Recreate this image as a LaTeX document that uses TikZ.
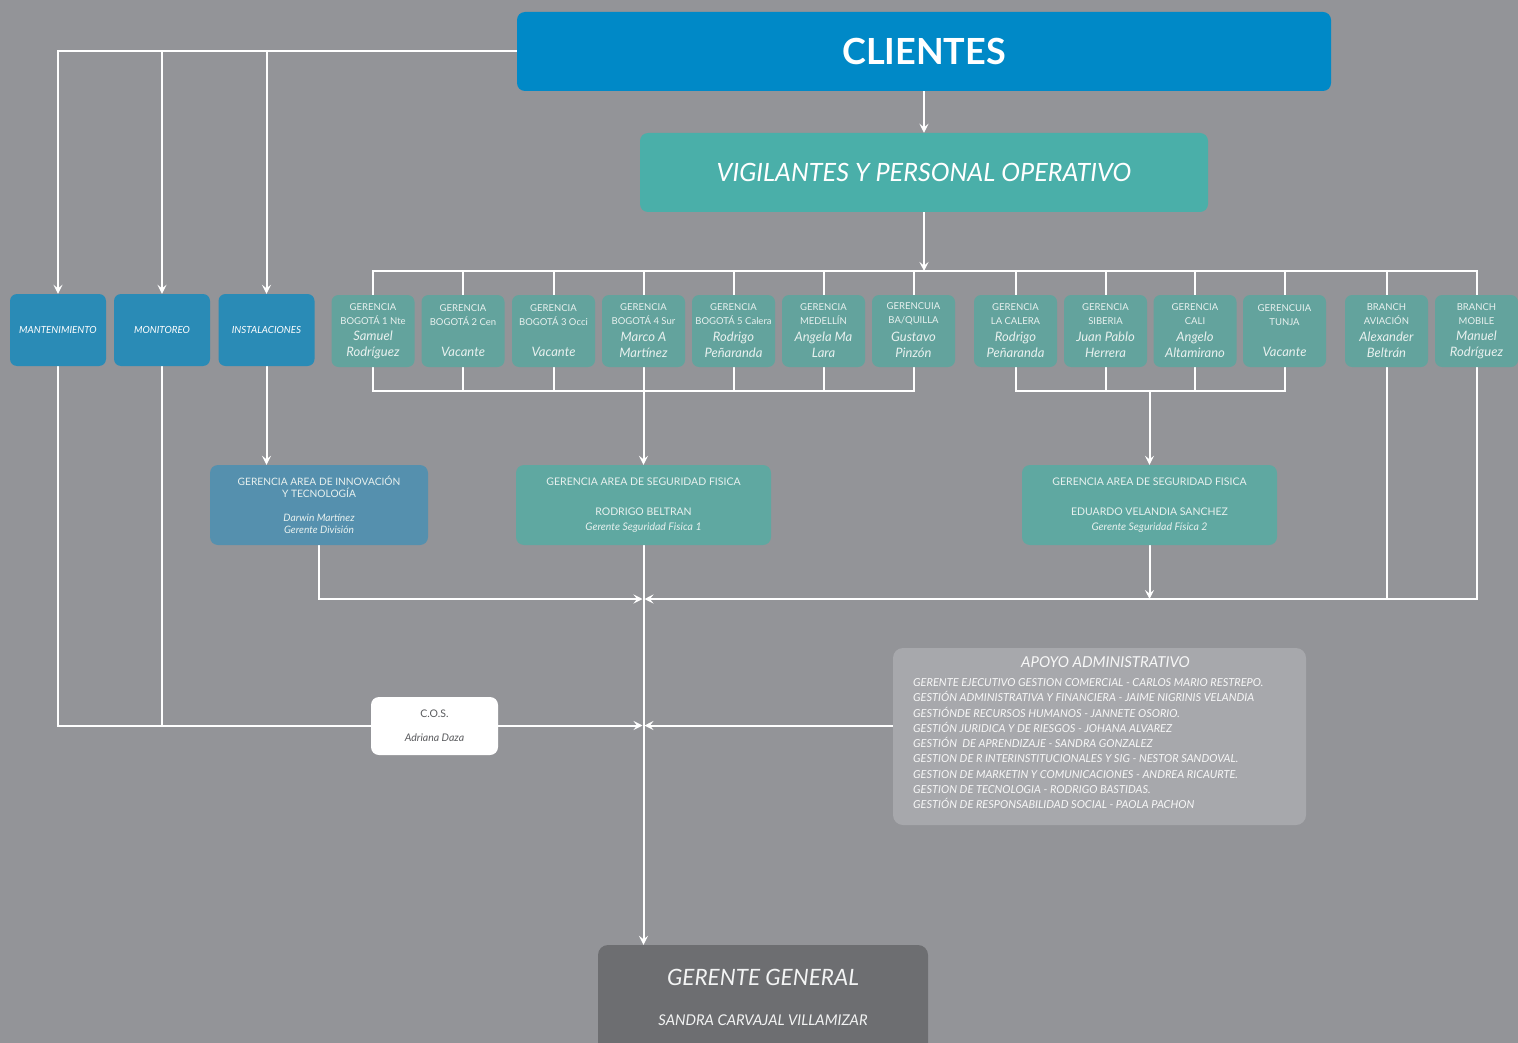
\documentclass[tikz,border=0pt]{standalone}
\usepackage{fontspec}
\setmainfont{Lato}
\usetikzlibrary{arrows.meta}
\pgfdeclarelayer{bg}
\pgfdeclarelayer{lines}
\pgfsetlayers{bg,lines,main}
\definecolor{cbg}{HTML}{939498}
\definecolor{ccli}{HTML}{0089C7}
\definecolor{cvig}{HTML}{4AAFA9}
\definecolor{cblue}{HTML}{2A8BB6}
\definecolor{cteal}{HTML}{63A39D}
\definecolor{cinn}{HTML}{5590AE}
\definecolor{cseg}{HTML}{5FA8A1}
\definecolor{capo}{HTML}{A7A8AC}
\definecolor{cgg}{HTML}{6D6E71}
\definecolor{ctxt}{HTML}{E8F1EF}
\definecolor{cdark}{HTML}{5A5B5E}
\newcommand\gbox[4]{%
  \node[tbox] (#1) at (#2,331) {};
  \node[hdr] (#1h) at (#2,314) {#3};
  \node[nm] (#1n) at (#2,345) {#4};}
\newcommand\gboxv[3]{%
  \node[tbox] (#1) at (#2,331) {};
  \node[hdr] (#1h) at (#2,315) {#3};
  \node[nm] (#1n) at (#2,352) {Vacante};}
\begin{document}
\begin{tikzpicture}[x=1pt,y=-1pt,
  conn/.style={draw=white,line width=2pt},
  arr/.style={conn,-{Stealth[length=9pt,width=9pt,inset=3.5pt]}},
  bbox/.style={fill=cblue,rounded corners=7pt,minimum width=96pt,minimum height=72pt,inner sep=0pt,text=white,font=\fontsize{9.8}{11}\selectfont\itshape},
  tbox/.style={fill=cteal,rounded corners=7pt,minimum width=83pt,minimum height=72pt,inner sep=0pt},
  hdr/.style={inner sep=0pt,align=center,text=ctxt,font=\fontsize{9.5}{13.5}\selectfont},
  nm/.style={inner sep=0pt,align=center,text=ctxt,font=\fontsize{13}{16.5}\selectfont\itshape},
  bigbox/.style={rounded corners=8pt,minimum height=80pt,inner sep=0pt,align=center,text=ctxt},
]
\begin{pgfonlayer}{bg}
\fill[cbg] (0,0) rectangle (1518,1043);
\end{pgfonlayer}
\useasboundingbox (0,0) rectangle (1518,1043);

% top boxes
\node[fill=ccli,rounded corners=8pt,minimum width=814pt,minimum height=79pt,inner sep=0pt,text=white,font=\fontsize{36}{40}\selectfont\bfseries] (cli) at (924,51.5) {CLIENTES};
\node[fill=cvig,rounded corners=8pt,minimum width=568pt,minimum height=79pt,inner sep=0pt,text=white,font=\fontsize{25.2}{30}\selectfont\itshape] (vig) at (924,172.5) {VIGILANTES Y PERSONAL OPERATIVO};

% blue boxes
\node[bbox] (mant) at (58,330) {MANTENIMIENTO};
\node[bbox] (mon) at (162,330) {MONITOREO};
\node[bbox] (inst) at (266.5,330) {INSTALACIONES};

% teal small boxes
\gbox{g1}{373}{GERENCIA\\BOGOTÁ 1 Nte}{Samuel\\Rodríguez}
\gboxv{g2}{463}{GERENCIA\\BOGOTÁ 2 Cen}
\gboxv{g3}{553.5}{GERENCIA\\BOGOTÁ 3 Occi}
\gbox{g4}{643.5}{GERENCIA\\BOGOTÁ 4 Sur}{Marco A\\Martínez}
\gbox{g5}{733.5}{GERENCIA\\BOGOTÁ 5 Calera}{Rodrigo\\Peñaranda}
\gbox{g6}{823.5}{GERENCIA\\MEDELLÍN}{Angela Ma\\Lara}
\gbox{g7}{913.5}{GERENCUIA\\BA/QUILLA}{Gustavo\\Pinzón}
\gbox{g8}{1015.5}{GERENCIA\\LA CALERA}{Rodrigo\\Peñaranda}
\gbox{g9}{1105.5}{GERENCIA\\SIBERIA}{Juan Pablo\\Herrera}
\gbox{g10}{1195}{GERENCIA\\CALI}{Angelo\\Altamirano}
\gboxv{g11}{1284.5}{GERENCUIA\\TUNJA}
\gbox{g12}{1386.5}{BRANCH\\AVIACIÓN}{Alexander\\Beltrán}
\gbox{g13}{1476.5}{BRANCH\\MOBILE}{Manuel\\Rodríguez}

% middle boxes
\node[bigbox,fill=cinn,minimum width=218pt,font=\fontsize{10.2}{12}\selectfont] (inn) at (319,505)
  {GERENCIA AREA DE INNOVACIÓN\\Y TECNOLOGÍA\\[12pt]{\itshape Darwin Martínez}\\{\itshape Gerente División}};
\node[bigbox,fill=cseg,minimum width=255pt,font=\fontsize{10.5}{15}\selectfont] (seg1) at (643.5,505)
  {GERENCIA AREA DE SEGURIDAD FISICA\\[15pt]RODRIGO BELTRAN\\{\itshape Gerente Seguridad Fisica 1}};
\node[bigbox,fill=cseg,minimum width=255pt,font=\fontsize{10.5}{15}\selectfont] (seg2) at (1149.5,505)
  {GERENCIA AREA DE SEGURIDAD FISICA\\[15pt]EDUARDO VELANDIA SANCHEZ\\{\itshape Gerente Seguridad Física 2}};

% COS
\node[fill=white,rounded corners=8pt,minimum width=127pt,minimum height=58pt,inner sep=0pt,align=center,text=cdark,font=\fontsize{10.5}{24}\selectfont] (cos) at (434.5,726)
  {C.O.S.\\{\itshape Adriana Daza}};

% APOYO
\node[fill=capo,rounded corners=10pt,minimum width=413pt,minimum height=177pt,inner sep=0pt] (apo) at (1099.5,736.5) {};
\node[inner sep=0pt,text=white!92!capo,font=\fontsize{15}{17}\selectfont\itshape] (apot) at (1105.5,662.5) {APOYO ADMINISTRATIVO};
\node[inner sep=0pt,anchor=north west,align=left,text=white!92!capo,font=\fontsize{11}{15.25}\selectfont\itshape] (apol) at (913,678.5)
  {GERENTE EJECUTIVO GESTION COMERCIAL - CARLOS MARIO RESTREPO.\\
   GESTIÓN ADMINISTRATIVA Y FINANCIERA - JAIME NIGRINIS VELANDIA\\
   GESTIÓNDE RECURSOS HUMANOS - JANNETE OSORIO.\\
   GESTIÓN JURIDICA Y DE RIESGOS - JOHANA ALVAREZ\\
   GESTIÓN\ \ DE APRENDIZAJE - SANDRA GONZALEZ\\
   GESTION DE R INTERINSTITUCIONALES Y SIG - NESTOR SANDOVAL.\\
   GESTION DE MARKETIN Y COMUNICACIONES - ANDREA RICAURTE.\\
   GESTION DE TECNOLOGIA - RODRIGO BASTIDAS.\\
   GESTIÓN DE RESPONSABILIDAD SOCIAL - PAOLA PACHON};

% GERENTE GENERAL
\node[fill=cgg,rounded corners=10pt,minimum width=330pt,minimum height=120pt,inner sep=0pt] (gg) at (763,1005) {};
\node[inner sep=0pt,text=white!92!cgg,font=\fontsize{22.5}{26}\selectfont\itshape] (ggt) at (763,977) {GERENTE GENERAL};
\node[inner sep=0pt,text=white!92!cgg,font=\fontsize{14.8}{17}\selectfont\itshape] (ggn) at (763,1020) {SANDRA CARVAJAL VILLAMIZAR};

\coordinate (busT) at (373,271);
\coordinate (busA) at (373,391);
\coordinate (j1) at (643.5,599);
\coordinate (j2) at (643.5,725.5);

\begin{pgfonlayer}{lines}
% from CLIENTES to left boxes
\draw[arr] (cli.west) -| (mant.north);
\draw[arr] (mon.north|-cli.west) -- (mon.north);
\draw[arr] (inst.north|-cli.west) -- (inst.north);
\draw[arr] (cli.south) -- (vig.north);
\draw[arr] (vig.south) -- (vig.south|-busT);
% top bus
\draw[conn] (g1.north) -- (g1.north|-busT) -- (g13.north|-busT) -- (g13.north);
\foreach \g in {g2,g3,g4,g5,g6,g7,g8,g9,g10,g11,g12}
  \draw[conn] (\g.north) -- (\g.north|-busT);
% bottom bus 1
\draw[conn] (g1.south) -- (g1.south|-busA) -- (g7.south|-busA) -- (g7.south);
\foreach \g in {g2,g3,g5,g6}
  \draw[conn] (\g.south) -- (\g.south|-busA);
\draw[arr] (g4.south) -- (seg1.north);
% bottom bus 2
\draw[conn] (g8.south) -- (g8.south|-busA) -- (g11.south|-busA) -- (g11.south);
\draw[conn] (g9.south) -- (g9.south|-busA);
\draw[conn] (g10.south) -- (g10.south|-busA);
\draw[arr] (seg2.north|-busA) -- (seg2.north);
% innovation
\draw[arr] (inst.south) -- (inst.south|-inn.north);
% y=599 line
\draw[arr,shorten >=1pt] (inn.south) |- (j1);
\draw[arr,shorten >=1pt] (g13.south) |- (j1);
\draw[conn] (g12.south) -- (g12.south|-j1);
\draw[arr] (seg2.south) -- (seg2.south|-j1);
% main vertical
\draw[arr] (seg1.south) -- (gg.north-|seg1.south);
% y=725 line
\draw[arr,shorten >=1pt] (mant.south) |- (j2);
\draw[conn] (mon.south) -- (mon.south|-j2);
\draw[arr,shorten >=1pt] (apo.west|-j2) -- (j2);
\end{pgfonlayer}
\end{tikzpicture}
\end{document}
